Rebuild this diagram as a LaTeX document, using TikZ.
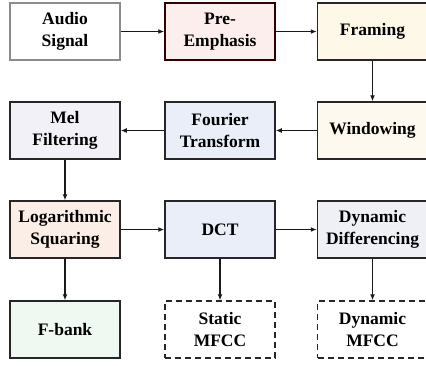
\documentclass[tikz,border=0pt]{standalone}
\usepackage{fontspec}
\setmainfont{Liberation Serif}
\usetikzlibrary{arrows.meta}
\definecolor{cpink}{HTML}{FDEEEE}
\definecolor{cyel}{HTML}{FEF8E8}
\definecolor{cwin}{HTML}{FDF9EF}
\definecolor{cblue}{HTML}{E9EEF8}
\definecolor{cmel}{HTML}{F1F1F7}
\definecolor{clog}{HTML}{FAEEE6}
\definecolor{cdyn}{HTML}{EEF0F6}
\definecolor{cfb}{HTML}{F0F8F2}
\begin{document}
\begin{tikzpicture}[x=1pt,y=-1pt,
  blk/.style={draw=black!85,line width=1.5pt,minimum width=110pt,minimum height=57pt,inner sep=0pt,
    align=center,font=\fontsize{17.5}{21.5}\selectfont\bfseries},
  dsh/.style={blk,dashed,dash pattern=on 6pt off 4pt,fill=white},
  arr/.style={-{Latex[length=6pt,width=5pt]},line width=1.5pt,black!90}]
\useasboundingbox[fill=white] (0,0) rectangle (426,365);
\node[blk,draw=black!45,fill=white] (a) at (65,31.5) {Audio\\Signal};
\node[blk,draw=black!80!red,fill=cpink] (p) at (220,31.5) {Pre-\\Emphasis};
\node[blk,fill=cyel] (f) at (372.5,31.5) {Framing};
\node[blk,fill=cwin] (w) at (372.5,130.5) {Windowing};
\node[blk,fill=cblue] (ft) at (220,130.5) {Fourier\\Transform};
\node[blk,fill=cmel] (m) at (65,130.5) {Mel\\Filtering};
\node[blk,fill=clog] (l) at (65,229.5) {Logarithmic\\Squaring};
\node[blk,fill=cblue] (d) at (220,229.5) {DCT};
\node[blk,fill=cdyn] (dd) at (372.5,229.5) {Dynamic\\Differencing};
\node[blk,fill=cfb] (fb) at (65,329.5) {F-bank};
\node[dsh] (sm) at (220,329.5) {Static\\MFCC};
\node[dsh] (dm) at (372.5,329.5) {Dynamic\\MFCC};
\draw[arr] (a) -- (p);
\draw[arr] (p) -- (f);
\draw[arr] (f) -- (w);
\draw[arr] (w) -- (ft);
\draw[arr] (ft) -- (m);
\draw[arr] (m) -- (l);
\draw[arr] (l) -- (d);
\draw[arr] (d) -- (dd);
\draw[arr] (l) -- (fb);
\draw[arr] (d) -- (sm);
\draw[arr] (dd) -- (dm);
\end{tikzpicture}
\end{document}
